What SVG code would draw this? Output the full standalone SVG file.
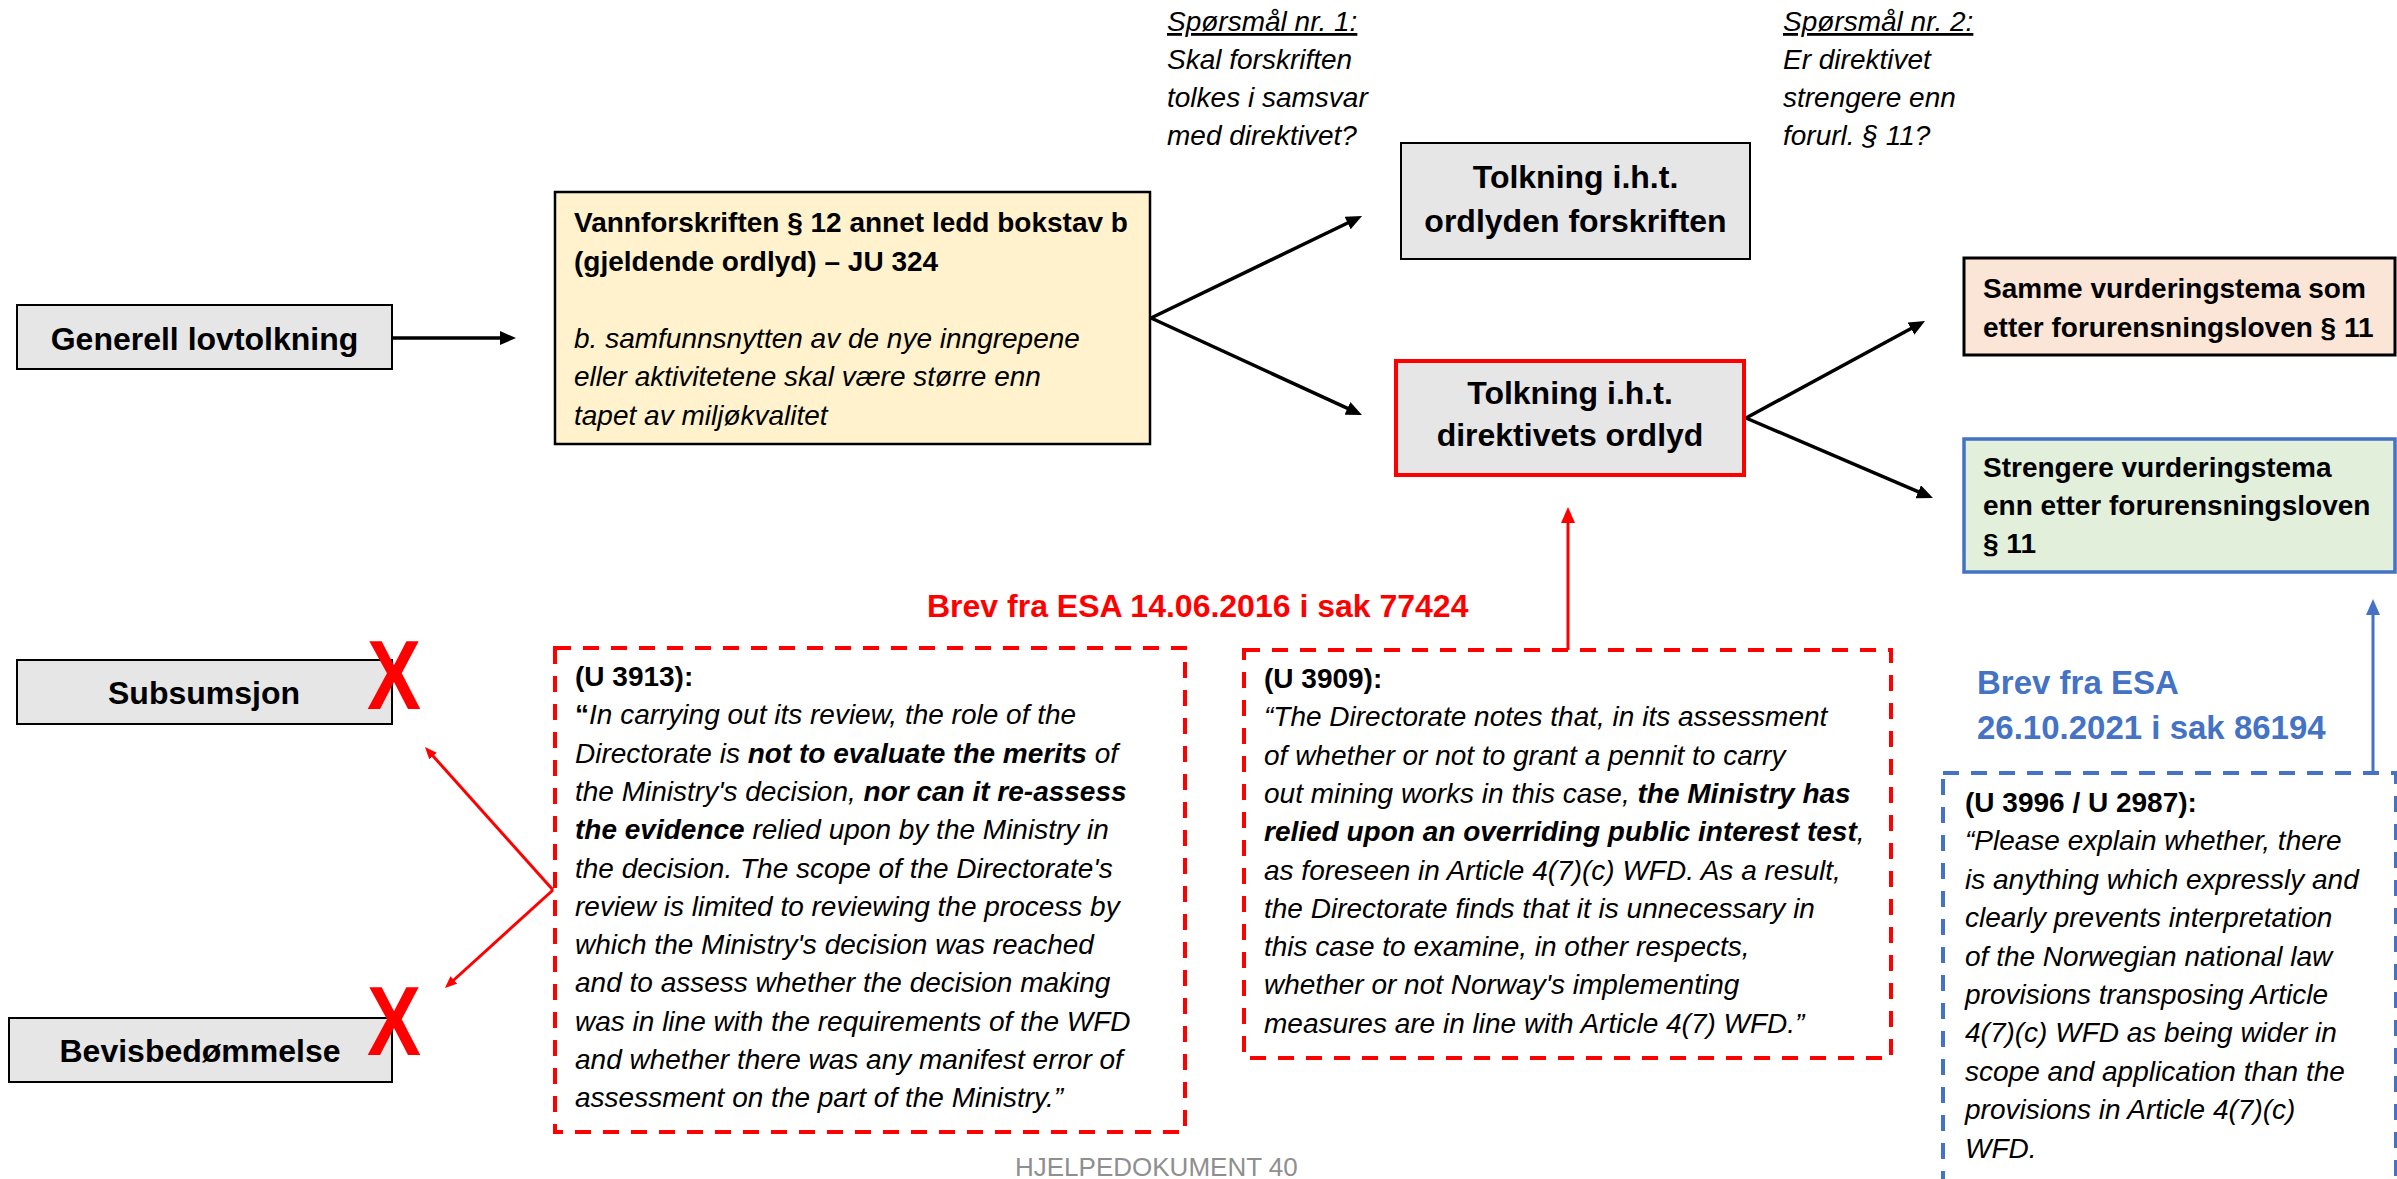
<svg xmlns="http://www.w3.org/2000/svg" width="2397" height="1179" viewBox="0 0 2397 1179">
<style>
text{font-family:"Liberation Sans",Arial,sans-serif;fill:#000}
.lbl{font-size:32px;font-weight:bold;text-anchor:middle}
.bx{font-size:28px}
.b{font-weight:bold}
.i{font-style:italic}
.gray{fill:#e6e6e6;stroke:#000;stroke-width:2}
.ln{fill:none;stroke:#000;stroke-width:3.5}
.rl{fill:none;stroke:#ff0000;stroke-width:3}
.bl{fill:none;stroke:#4472c4;stroke-width:3}
.xmark{font-size:99px;font-weight:bold;fill:#ff0000}
.dr{fill:none;stroke:#ff0000;stroke-width:4;stroke-dasharray:16 12}
.db{fill:none;stroke:#4472c4;stroke-width:4;stroke-dasharray:16 12}
</style>
<defs>
<marker id="ah" markerUnits="userSpaceOnUse" viewBox="0 0 16 14" markerWidth="16" markerHeight="14" refX="8" refY="7" orient="auto"><path d="M0,0 L16,7 L0,14 z" fill="#000"/></marker>
<marker id="ahr" markerUnits="userSpaceOnUse" viewBox="0 0 16 14" markerWidth="16" markerHeight="14" refX="8" refY="7" orient="auto"><path d="M0,0 L16,7 L0,14 z" fill="#ff0000"/></marker>
<marker id="ahrs" markerUnits="userSpaceOnUse" viewBox="0 0 12 10" markerWidth="12" markerHeight="10" refX="6" refY="5" orient="auto"><path d="M0,0 L12,5 L0,10 z" fill="#ff0000"/></marker>
<marker id="ahb" markerUnits="userSpaceOnUse" viewBox="0 0 16 14" markerWidth="16" markerHeight="14" refX="8" refY="7" orient="auto"><path d="M0,0 L16,7 L0,14 z" fill="#4472c4"/></marker>
</defs>
<rect width="2397" height="1179" fill="#fff"/>

<g id="connectors">
<line class="ln" x1="393" y1="338" x2="508" y2="338" marker-end="url(#ah)"/>
<line class="ln" x1="1151" y1="318" x2="1354.8" y2="219.5" marker-end="url(#ah)"/>
<line class="ln" x1="1151" y1="318" x2="1354.7" y2="411.7" marker-end="url(#ah)"/>
<line class="ln" x1="1746" y1="418" x2="1918" y2="324.8" marker-end="url(#ah)"/>
<line class="ln" x1="1746" y1="418" x2="1925.6" y2="494.9" marker-end="url(#ah)"/>
<line class="rl" x1="1568" y1="650" x2="1568" y2="515" marker-end="url(#ahr)"/>
<line class="rl" x1="553" y1="890" x2="429" y2="751.5" marker-end="url(#ahrs)"/>
<line class="rl" x1="553" y1="890" x2="449.4" y2="984" marker-end="url(#ahrs)"/>
<line class="bl" x1="2373" y1="773" x2="2373" y2="607" marker-end="url(#ahb)"/>
</g>

<g id="generell">
<rect class="gray" x="17" y="305" width="375" height="64"/>
<text class="lbl" x="204.5" y="350">Generell lovtolkning</text>
</g>

<g id="vannforskriften">
<rect x="555" y="192" width="595" height="252" fill="#fff2cc" stroke="#000" stroke-width="2.5"/>
<text class="bx" x="574">
<tspan class="b" x="574" y="232">Vannforskriften § 12 annet ledd bokstav b</tspan>
<tspan class="b" x="574" y="270.5">(gjeldende ordlyd) – JU 324</tspan>
<tspan class="i" x="574" y="347.5">b. samfunnsnytten av de nye inngrepene</tspan>
<tspan class="i" x="574" y="386">eller aktivitetene skal være større enn</tspan>
<tspan class="i" x="574" y="424.5">tapet av miljøkvalitet</tspan>
</text>
</g>

<g id="sporsmal1">
<text class="bx i" x="1167">
<tspan x="1167" y="31" text-decoration="underline">Spørsmål nr. 1:</tspan>
<tspan x="1167" y="69">Skal forskriften</tspan>
<tspan x="1167" y="107">tolkes i samsvar</tspan>
<tspan x="1167" y="145">med direktivet?</tspan>
</text>
</g>

<g id="sporsmal2">
<text class="bx i" x="1783">
<tspan x="1783" y="31" text-decoration="underline">Spørsmål nr. 2:</tspan>
<tspan x="1783" y="69">Er direktivet</tspan>
<tspan x="1783" y="107">strengere enn</tspan>
<tspan x="1783" y="145">forurl. § 11?</tspan>
</text>
</g>

<g id="tolkning-forskriften">
<rect class="gray" x="1401" y="143" width="349" height="116"/>
<text class="lbl" x="1575.5" y="188">Tolkning i.h.t.</text>
<text class="lbl" x="1575.5" y="232">ordlyden forskriften</text>
</g>

<g id="tolkning-direktivet">
<rect x="1396" y="361" width="348" height="114" fill="#e6e6e6" stroke="#ff0000" stroke-width="4"/>
<text class="lbl" x="1570" y="404">Tolkning i.h.t.</text>
<text class="lbl" x="1570" y="446">direktivets ordlyd</text>
</g>

<g id="samme">
<rect x="1964" y="258" width="431" height="97" fill="#fbe5d6" stroke="#000" stroke-width="3"/>
<text class="bx b" x="1983">
<tspan x="1983" y="298">Samme vurderingstema som</tspan>
<tspan x="1983" y="337">etter forurensningsloven § 11</tspan>
</text>
</g>

<g id="strengere">
<rect x="1964" y="439" width="431" height="133" fill="#e2efda" stroke="#4472c4" stroke-width="3.5"/>
<text class="bx b" x="1983">
<tspan x="1983" y="477">Strengere vurderingstema</tspan>
<tspan x="1983" y="515">enn etter forurensningsloven</tspan>
<tspan x="1983" y="553">§ 11</tspan>
</text>
</g>

<g id="subsumsjon">
<rect class="gray" x="17" y="660" width="375" height="64"/>
<text class="lbl" x="204" y="704">Subsumsjon</text>
<text class="xmark" x="367" y="709" textLength="54" lengthAdjust="spacingAndGlyphs">X</text>
</g>

<g id="bevisbedommelse">
<rect class="gray" x="9" y="1018" width="383" height="64"/>
<text class="lbl" x="200" y="1062">Bevisbedømmelse</text>
<text class="xmark" x="367" y="1055" textLength="54" lengthAdjust="spacingAndGlyphs">X</text>
</g>

<g id="esa-2016-label">
<text x="927" y="617" font-size="32" font-weight="bold" style="fill:#ff0000">Brev fra ESA 14.06.2016 i sak 77424</text>
</g>

<g id="u3913">
<rect class="dr" x="555" y="648" width="630" height="484"/>
<text class="bx i" x="575">
<tspan class="b" x="575" y="686" style="font-style:normal">(U 3913):</tspan>
<tspan x="575" y="724.3"><tspan class="b" style="font-style:normal">“</tspan>In carrying out its review, the role of the</tspan>
<tspan x="575" y="762.6">Directorate is <tspan class="b">not to evaluate the merits</tspan> of</tspan>
<tspan x="575" y="800.9">the Ministry's decision, <tspan class="b">nor can it re-assess</tspan></tspan>
<tspan x="575" y="839.2"><tspan class="b">the evidence</tspan> relied upon by the Ministry in</tspan>
<tspan x="575" y="877.5">the decision. The scope of the Directorate's</tspan>
<tspan x="575" y="915.8">review is limited to reviewing the process by</tspan>
<tspan x="575" y="954.1">which the Ministry's decision was reached</tspan>
<tspan x="575" y="992.4">and to assess whether the decision making</tspan>
<tspan x="575" y="1030.7">was in line with the requirements of the WFD</tspan>
<tspan x="575" y="1069">and whether there was any manifest error of</tspan>
<tspan x="575" y="1107.3">assessment on the part of the Ministry.”</tspan>
</text>
</g>

<g id="u3909">
<rect class="dr" x="1244" y="650" width="647" height="408"/>
<text class="bx i" x="1264">
<tspan class="b" x="1264" y="688" style="font-style:normal">(U 3909):</tspan>
<tspan x="1264" y="726.3">“The Directorate notes that, in its assessment</tspan>
<tspan x="1264" y="764.6">of whether or not to grant a pennit to carry</tspan>
<tspan x="1264" y="802.9">out mining works in this case, <tspan class="b">the Ministry has</tspan></tspan>
<tspan x="1264" y="841.2"><tspan class="b">relied upon an overriding public interest test</tspan>,</tspan>
<tspan x="1264" y="879.5">as foreseen in Article 4(7)(c) WFD. As a result,</tspan>
<tspan x="1264" y="917.8">the Directorate finds that it is unnecessary in</tspan>
<tspan x="1264" y="956.1">this case to examine, in other respects,</tspan>
<tspan x="1264" y="994.4">whether or not Norway's implementing</tspan>
<tspan x="1264" y="1032.7">measures are in line with Article 4(7) WFD.”</tspan>
</text>
</g>

<g id="esa-2021-label">
<text x="1977" font-size="33" font-weight="bold" style="fill:#4472c4">
<tspan x="1977" y="694">Brev fra ESA</tspan>
<tspan x="1977" y="739">26.10.2021 i sak 86194</tspan>
</text>
</g>

<g id="u3996">
<rect class="db" x="1943" y="773" width="453" height="440"/>
<text class="bx i" x="1965">
<tspan class="b" x="1965" y="812" style="font-style:normal">(U 3996 / U 2987):</tspan>
<tspan x="1965" y="850.4">“Please explain whether, there</tspan>
<tspan x="1965" y="888.8">is anything which expressly and</tspan>
<tspan x="1965" y="927.2">clearly prevents interpretation</tspan>
<tspan x="1965" y="965.6">of the Norwegian national law</tspan>
<tspan x="1965" y="1004">provisions transposing Article</tspan>
<tspan x="1965" y="1042.4">4(7)(c) WFD as being wider in</tspan>
<tspan x="1965" y="1080.8">scope and application than the</tspan>
<tspan x="1965" y="1119.2">provisions in Article 4(7)(c)</tspan>
<tspan x="1965" y="1157.6">WFD.</tspan>
</text>
</g>

<g id="footer">
<text x="1015" y="1176" font-size="26" style="fill:#8f8f8f">HJELPEDOKUMENT 40</text>
</g>
</svg>
